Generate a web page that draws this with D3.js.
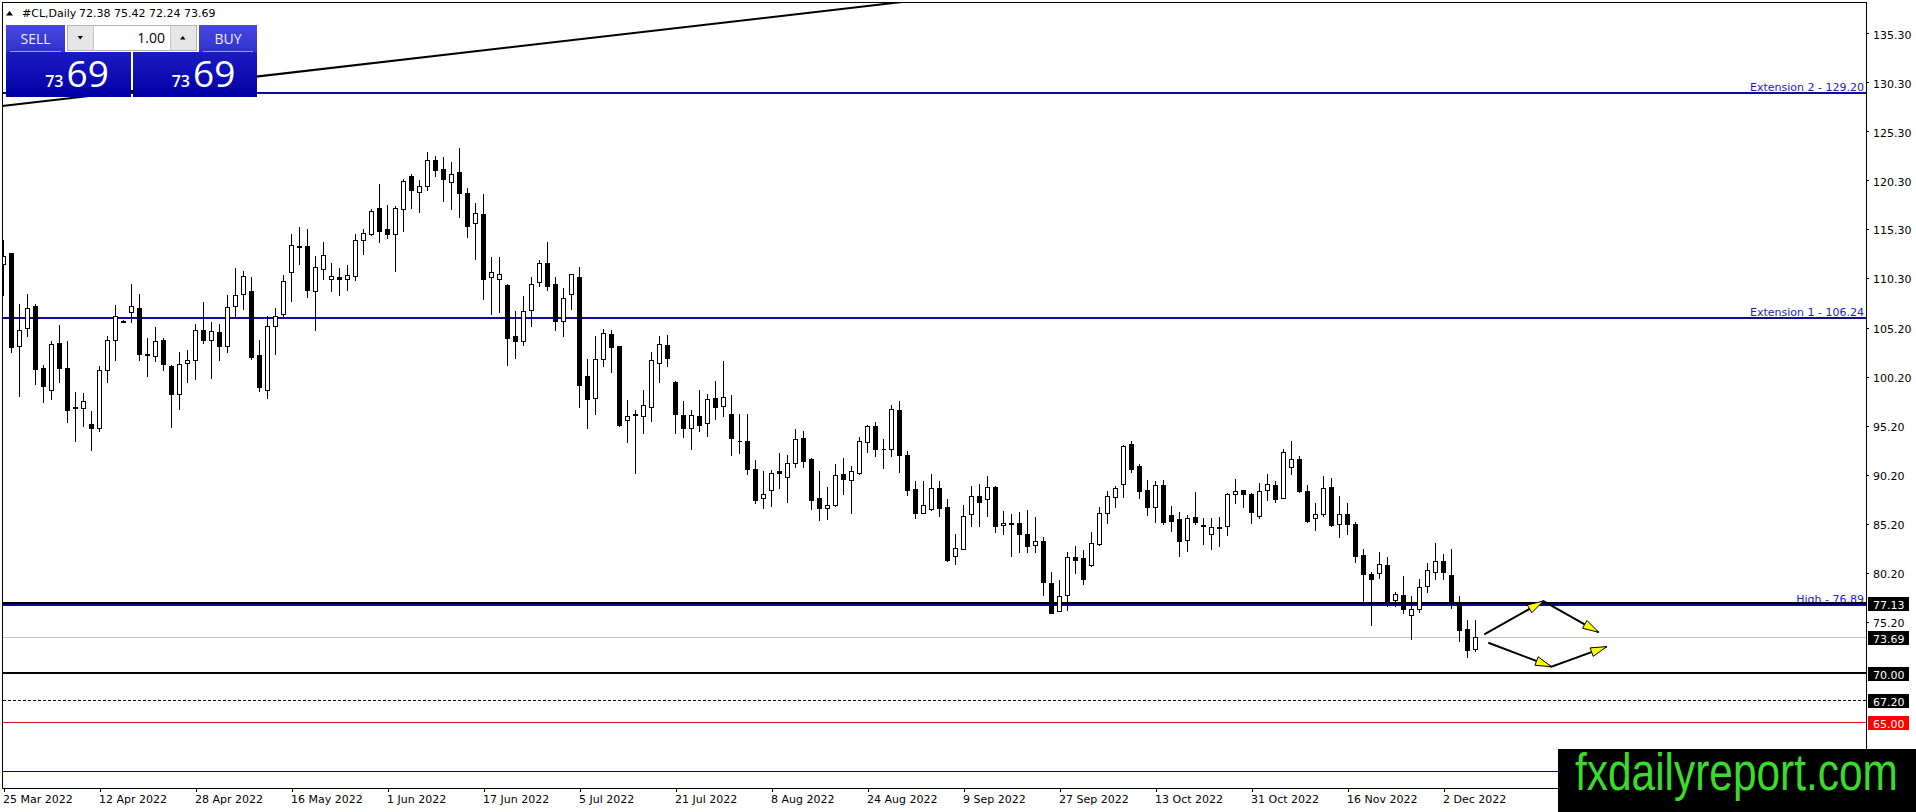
<!DOCTYPE html>
<html>
<head>
<meta charset="utf-8">
<title>#CL,Daily</title>
<script src="https://cdn.jsdelivr.net/npm/d3@7"></script>
<style>
  html, body { margin: 0; padding: 0; background: #fff; overflow: hidden; }
  svg { display: block; }
</style>
</head>
<body>
<div id="chart"></div>
<script>
// ---- data --------------------------------------------------------------
const SYMBOL = '#CL,Daily';
const LOT = '1.00';
const BID = 73.69;

// date label every 12 bars, bar 0 = 25 Mar 2022
const dateLabels = ['25 Mar 2022', '12 Apr 2022', '28 Apr 2022', '16 May 2022', '1 Jun 2022',
    '17 Jun 2022', '5 Jul 2022', '21 Jul 2022', '8 Aug 2022', '24 Aug 2022', '9 Sep 2022',
    '27 Sep 2022', '13 Oct 2022', '31 Oct 2022', '16 Nov 2022', '2 Dec 2022'];
const LABEL_EVERY = 12;

const opens = [
    111.74, 112.83, 103.40, 105.25, 107.44, 101.15, 98.90, 103.64, 101.15, 97.00,
    97.05, 95.41, 94.98, 100.88, 104.02, 105.90, 106.89, 107.30, 102.60, 102.38,
    103.95, 101.29, 98.49, 101.63, 101.97, 105.04, 103.95, 104.84, 103.40, 107.44,
    108.67, 108.94, 102.48, 98.90, 105.45, 106.68, 110.92, 113.50, 113.59, 109.04,
    111.19, 110.17, 110.41, 110.24, 110.54, 114.17, 114.85, 117.45, 115.29, 114.78,
    117.41, 120.76, 119.12, 119.73, 122.40, 121.44, 120.11, 121.10, 119.05, 115.91,
    116.87, 110.37, 110.24, 109.59, 104.36, 103.88, 107.09, 109.93, 111.84, 109.69,
    105.90, 108.73, 110.41, 100.26, 98.08, 102.07, 104.63, 103.34, 95.82, 96.35,
    96.23, 97.15, 101.66, 103.51, 99.71, 96.37, 95.00, 96.26, 95.48, 98.11,
    97.26, 96.43, 93.70, 93.67, 90.80, 87.89, 88.65, 90.63, 89.94, 91.45,
    93.98, 91.82, 87.83, 86.87, 87.11, 90.29, 89.67, 90.39, 93.57, 95.21,
    92.90, 92.90, 96.88, 92.26, 88.78, 86.35, 86.76, 88.85, 86.90, 81.91,
    82.66, 86.18, 88.06, 87.72, 88.92, 85.06, 85.25, 85.26, 84.13, 83.01,
    83.42, 79.21, 76.34, 77.98, 81.78, 81.67, 80.96, 83.11, 86.29, 87.93,
    89.26, 93.36, 91.14, 88.68, 86.97, 89.19, 86.12, 85.71, 83.52, 85.88,
    85.00, 84.13, 84.80, 84.99, 88.23, 88.64, 88.27, 86.05, 88.64, 89.19,
    87.89, 91.00, 91.82, 88.57, 85.77, 86.18, 88.95, 85.16, 86.22, 85.16,
    82.02, 80.07, 80.14, 80.99, 77.47, 77.92, 75.87, 76.48, 78.87, 80.31,
    81.40, 79.97, 77.23, 74.50, 72.38];
const highs = [
    114.20, 112.90, 107.71, 108.67, 107.70, 101.39, 103.85, 105.49, 103.91, 98.72,
    98.58, 96.77, 101.28, 104.36, 107.54, 106.00, 109.69, 108.73, 104.22, 105.32,
    104.16, 101.39, 102.72, 102.93, 105.59, 107.91, 105.80, 105.66, 108.53, 111.30,
    111.06, 110.37, 104.02, 106.41, 107.30, 110.61, 114.82, 115.50, 115.33, 112.56,
    113.99, 111.81, 111.30, 111.64, 114.78, 115.29, 117.34, 119.94, 117.79, 117.68,
    120.45, 120.96, 120.35, 123.15, 122.74, 122.67, 122.20, 123.60, 119.50, 117.96,
    118.91, 112.49, 112.49, 109.69, 106.92, 108.49, 110.44, 112.15, 113.99, 110.37,
    109.28, 110.70, 111.47, 102.07, 104.36, 105.15, 104.98, 103.40, 97.90, 96.84,
    98.89, 102.76, 104.36, 104.46, 99.75, 97.80, 96.84, 98.89, 98.48, 99.75,
    101.80, 98.35, 96.43, 96.43, 91.72, 90.63, 90.69, 92.47, 92.27, 94.90,
    94.73, 91.90, 90.56, 89.00, 91.31, 91.92, 91.14, 94.11, 95.30, 95.58,
    93.87, 97.35, 97.73, 92.68, 89.63, 89.63, 90.28, 89.53, 87.72, 84.17,
    87.14, 89.12, 89.29, 90.11, 89.12, 86.53, 86.22, 86.39, 86.63, 85.88,
    83.83, 80.27, 79.45, 82.32, 82.94, 82.53, 84.41, 86.90, 88.61, 89.02,
    93.26, 93.63, 91.31, 89.70, 89.53, 89.70, 87.07, 86.39, 86.12, 88.44,
    85.77, 85.77, 85.94, 88.40, 89.77, 88.70, 88.40, 89.36, 90.28, 89.60,
    92.88, 93.70, 92.16, 89.19, 87.31, 90.11, 89.87, 88.06, 87.31, 85.36,
    82.63, 80.31, 82.29, 81.84, 78.26, 79.86, 77.81, 79.52, 81.23, 83.25,
    82.08, 82.63, 77.81, 75.35, 75.42];
const lows = [
    108.60, 102.76, 98.31, 104.36, 99.51, 97.63, 97.97, 99.68, 95.58, 93.63,
    95.17, 92.74, 94.66, 99.68, 101.97, 105.80, 105.83, 101.97, 100.33, 101.83,
    100.94, 95.07, 96.95, 99.68, 99.99, 103.68, 100.06, 101.90, 102.79, 106.34,
    107.20, 102.04, 98.76, 98.04, 102.58, 106.34, 107.98, 111.70, 108.39, 104.98,
    110.17, 109.01, 108.53, 109.08, 110.10, 112.77, 114.75, 114.03, 114.44, 111.06,
    115.16, 117.51, 117.10, 119.26, 120.69, 118.23, 117.38, 116.59, 114.54, 112.22,
    108.22, 106.68, 106.85, 101.46, 102.14, 103.44, 105.39, 109.52, 109.14, 104.98,
    104.39, 107.20, 97.19, 94.97, 96.43, 101.32, 100.71, 95.17, 93.53, 90.35,
    94.45, 95.68, 99.68, 101.32, 94.45, 94.04, 92.85, 94.66, 94.18, 95.92,
    96.20, 92.23, 92.44, 90.29, 87.38, 86.87, 87.04, 88.82, 87.48, 91.04,
    90.97, 86.70, 85.57, 85.67, 87.04, 88.24, 86.36, 90.30, 92.57, 92.10,
    90.87, 92.16, 90.45, 88.17, 85.84, 86.29, 86.63, 86.05, 81.43, 81.09,
    82.60, 85.02, 85.02, 86.05, 84.41, 84.17, 81.95, 82.29, 82.36, 82.29,
    77.98, 76.05, 76.30, 76.45, 80.20, 79.11, 80.90, 83.00, 85.33, 86.97,
    87.93, 90.45, 87.89, 86.12, 85.43, 85.16, 84.51, 81.95, 82.46, 85.16,
    83.11, 82.60, 82.97, 84.07, 87.31, 86.97, 85.26, 85.84, 87.65, 87.48,
    87.82, 90.32, 88.44, 85.43, 84.58, 86.05, 85.02, 83.89, 84.13, 81.33,
    77.16, 74.84, 79.69, 76.82, 76.82, 76.14, 73.47, 76.21, 78.26, 79.62,
    79.62, 76.65, 73.24, 71.60, 72.24];
const closes = [
    112.56, 103.27, 105.04, 107.30, 101.01, 99.24, 103.54, 101.12, 96.84, 97.10,
    97.77, 94.98, 100.88, 104.02, 106.41, 105.85, 107.44, 102.58, 102.50, 103.92,
    101.56, 98.49, 101.56, 101.97, 105.04, 104.02, 104.91, 103.40, 107.40, 108.53,
    110.48, 102.24, 99.17, 105.45, 106.48, 110.03, 113.72, 113.55, 109.14, 111.40,
    112.63, 110.51, 110.17, 110.58, 114.17, 114.95, 117.17, 115.16, 114.78, 117.45,
    120.25, 119.26, 119.73, 122.40, 121.37, 120.42, 120.96, 118.95, 115.67, 116.93,
    110.24, 110.89, 110.68, 104.22, 103.88, 106.99, 109.72, 111.84, 109.55, 105.90,
    108.32, 110.68, 99.34, 97.97, 102.07, 104.74, 103.27, 95.34, 96.23, 96.45,
    97.36, 101.97, 103.61, 102.17, 96.43, 95.00, 96.37, 95.31, 97.97, 97.12,
    98.21, 93.98, 93.65, 90.76, 87.62, 88.30, 90.39, 90.35, 91.45, 93.87,
    91.65, 87.69, 86.87, 87.11, 90.18, 89.74, 90.63, 93.64, 95.21, 92.85,
    92.85, 96.90, 92.20, 88.68, 86.29, 87.14, 88.85, 86.87, 81.50, 82.70,
    86.01, 88.06, 87.48, 88.98, 85.02, 85.30, 85.20, 84.13, 82.97, 83.42,
    79.28, 76.11, 77.88, 81.78, 81.50, 79.59, 83.21, 86.29, 88.06, 88.85,
    93.19, 90.80, 88.51, 86.97, 89.19, 85.43, 85.53, 83.48, 85.77, 85.43,
    85.05, 84.85, 84.85, 88.27, 88.54, 88.30, 86.39, 88.51, 89.26, 87.76,
    92.54, 91.82, 88.57, 85.50, 86.18, 88.85, 85.09, 86.22, 85.23, 81.95,
    80.03, 79.62, 81.06, 77.30, 78.02, 76.55, 76.48, 78.80, 80.48, 81.40,
    80.24, 77.23, 74.40, 72.35, 73.69];

// right price scale labels (MT4 steps, incl. its 110.30 -> 105.20 jump)
const priceTicks = [135.30, 130.30, 125.30, 120.30, 115.30, 110.30, 105.20,
    100.20, 95.20, 90.20, 85.20, 80.20, 75.20];

// horizontal levels drawn on the chart
const levelNames = ['ext2', 'ext1', 'high', 'resist', 'bid', 'round', 'dash', 'stop', 'floor'];
const levelValues = [129.20, 106.24, 76.89, 77.13, BID, 70.00, 67.20, 65.00, 59.96];
const levelTitles = ['Extension 2', 'Extension 1', 'High', '', '', '', '', '', ''];

// drawn objects, as [bar index, price]
const trendPoints = [[-0.16, 127.89], [49.5, 132.58]];
const arrowPaths = [
    [[185.1, 73.92], [192.5, 77.32], [199.4, 74.13]],
    [[185.6, 73.06], [193.5, 70.61], [200.4, 72.66]],
];

// ---- layout & styles ----------------------------------------------------
const W = 1916, H = 812;
const PLOT = { left: 2.5, top: 2.5, right: 1866.5, bottom: 788.5 };
const PRICE_MIN = 58.2, PRICE_MAX = 138.45;
const BAR_STEP = 8, FIRST_BAR_X = 3.5;
const FONT = '"DejaVu Sans", Verdana, sans-serif';
const UI_FONT = '"Open Sans", "Noto Sans", sans-serif';

const LEVEL_STYLE = {
    ext2:   { stroke: '#0b0b9c', width: 2 },
    ext1:   { stroke: '#0b0b9c', width: 2 },
    high:   { stroke: '#0b0b9c', width: 2 },
    resist: { stroke: '#000', width: 2, tag: '#000' },
    bid:    { stroke: '#c4c4c4', width: 1, tag: '#000' },
    round:  { stroke: '#000', width: 2, tag: '#000' },
    dash:   { stroke: '#000', width: 1, dash: '3,2', tag: '#000' },
    stop:   { stroke: '#e01010', width: 1, tag: '#ff0000' },
    floor:  { stroke: '#00007c', width: 1 },
};
const LEVEL_ORDER = ['ext2', 'ext1', 'high', 'floor', 'bid', 'stop', 'dash', 'round', 'resist'];

// ---- scales --------------------------------------------------------------
const x = d3.scaleLinear().domain([0, 1]).range([FIRST_BAR_X, FIRST_BAR_X + BAR_STEP]);
const y = d3.scaleLinear().domain([PRICE_MIN, PRICE_MAX]).range([788.2, 2.6]);

const svg = d3.select('#chart').append('svg')
    .attr('width', W).attr('height', H)
    .attr('viewBox', `0 0 ${W} ${H}`);

svg.append('rect').attr('width', W).attr('height', H).attr('fill', '#fff');

const defs = svg.append('defs');
defs.append('clipPath').attr('id', 'plot-clip')
    .append('rect')
    .attr('x', PLOT.left).attr('y', PLOT.top)
    .attr('width', PLOT.right - PLOT.left).attr('height', PLOT.bottom - PLOT.top);

const plot = svg.append('g').attr('clip-path', 'url(#plot-clip)');

// ---- levels: captions first, line over it (as MT4 shows "High") ---------
const levels = levelNames.map((name, i) => ({
    name, value: levelValues[i], title: levelTitles[i], style: LEVEL_STYLE[name],
}));
const byName = Object.fromEntries(levels.map(l => [l.name, l]));

plot.selectAll('text.level-caption')
    .data(levels.filter(l => l.title))
    .join('text')
    .attr('class', 'level-caption')
    .attr('x', PLOT.right - 2.5)
    .attr('y', d => Math.round(y(d.value)) - 2)
    .attr('text-anchor', 'end')
    .attr('font-family', FONT)
    .attr('font-size', 11)
    .attr('fill', '#1c1cc4')
    .text(d => `${d.title} - ${d.value.toFixed(2)}`);

plot.selectAll('line.level')
    .data(LEVEL_ORDER.map(n => byName[n]))
    .join('line')
    .attr('class', 'level')
    .attr('x1', PLOT.left).attr('x2', PLOT.right)
    .attr('y1', d => Math.round(y(d.value)) + (d.style.width % 2 ? 0.5 : 0))
    .attr('y2', d => Math.round(y(d.value)) + (d.style.width % 2 ? 0.5 : 0))
    .attr('stroke', d => d.style.stroke)
    .attr('stroke-width', d => d.style.width)
    .attr('stroke-dasharray', d => d.style.dash || null)
    .attr('shape-rendering', 'crispEdges');

// ---- trendline (ray to the right, clipped by the plot) ------------------
const [[ta, tp], [tb, tq]] = trendPoints;
const slope = (tq - tp) / (tb - ta);
const rayEnd = 260;
plot.append('line')
    .attr('x1', x(ta)).attr('y1', y(tp))
    .attr('x2', x(rayEnd)).attr('y2', y(tp + slope * (rayEnd - ta)))
    .attr('stroke', '#000').attr('stroke-width', 2);

// ---- candles ---------------------------------------------------------------
const bars = opens.map((o, i) => ({ i, o, h: highs[i], l: lows[i], c: closes[i] }));
const candle = plot.append('g').selectAll('g.bar')
    .data(bars)
    .join('g')
    .attr('class', 'bar');

candle.append('line')
    .attr('x1', d => Math.floor(x(d.i)) + 0.5)
    .attr('x2', d => Math.floor(x(d.i)) + 0.5)
    .attr('y1', d => Math.round(y(d.h)))
    .attr('y2', d => Math.round(y(d.l)) + 1)
    .attr('stroke', '#000')
    .attr('shape-rendering', 'crispEdges');

candle.append('path')
    .attr('d', d => {
        const left = Math.floor(x(d.i)) - 1.5;
        const top = Math.round(y(Math.max(d.o, d.c))) + 0.5;
        const bottom = Math.round(y(Math.min(d.o, d.c))) + 0.5;
        return `M${left},${top}H${left + 4}V${bottom}H${left}Z`;
    })
    .attr('fill', d => d.c >= d.o ? '#fff' : '#000')
    .attr('stroke', '#000')
    .attr('shape-rendering', 'crispEdges');

// ---- scenario arrows ------------------------------------------------------
const arrowLine = d3.line().x(d => x(d[0])).y(d => y(d[1]));
const arrows = plot.append('g');
arrowPaths.forEach(path => {
    arrows.append('path')
        .attr('d', arrowLine(path))
        .attr('fill', 'none')
        .attr('stroke', '#000')
        .attr('stroke-width', 2);
    d3.pairs(path).forEach(([a, b]) => {
        const x0 = x(a[0]), y0 = y(a[1]), x1 = x(b[0]), y1 = y(b[1]);
        const ang = Math.atan2(y1 - y0, x1 - x0);
        const len = 16, half = 4.5;
        const bx = x1 - len * Math.cos(ang), by = y1 - len * Math.sin(ang);
        const nx = -Math.sin(ang) * half, ny = Math.cos(ang) * half;
        arrows.append('path')
            .attr('d', `M${x1},${y1}L${bx + nx},${by + ny}L${bx - nx},${by - ny}Z`)
            .attr('fill', '#ffff00')
            .attr('stroke', '#000')
            .attr('stroke-width', 1)
            .attr('stroke-linejoin', 'miter');
    });
});

// ---- frame & axes -----------------------------------------------------------
svg.append('rect')
    .attr('x', PLOT.left).attr('y', PLOT.top)
    .attr('width', PLOT.right - PLOT.left).attr('height', PLOT.bottom - PLOT.top)
    .attr('fill', 'none').attr('stroke', '#000')
    .attr('shape-rendering', 'crispEdges');

const yAxis = d3.axisRight(y)
    .tickValues(priceTicks)
    .tickFormat(d3.format('.2f'))
    .tickSize(3)
    .tickSizeOuter(0);

svg.append('g')
    .attr('transform', `translate(${PLOT.right - 0.5},0)`)
    .call(yAxis)
    .call(g => g.select('.domain').remove())
    .call(g => g.selectAll('line').attr('stroke', '#000').attr('shape-rendering', 'crispEdges'))
    .call(g => g.selectAll('text')
        .attr('x', 7)
        .attr('dy', '0.43em')
        .attr('fill', '#000')
        .attr('font-family', FONT)
        .attr('font-size', 11));

const xAxis = d3.axisBottom(x)
    .tickValues(dateLabels.map((_, k) => k * LABEL_EVERY))
    .tickFormat((d, k) => dateLabels[k])
    .tickSize(4)
    .tickSizeOuter(0);

svg.append('g')
    .attr('transform', `translate(0,${PLOT.bottom - 0.5})`)
    .call(xAxis)
    .call(g => g.select('.domain').remove())
    .call(g => g.selectAll('line').attr('stroke', '#000').attr('shape-rendering', 'crispEdges'))
    .call(g => g.selectAll('text')
        .attr('x', -1)
        .attr('text-anchor', 'start')
        .attr('fill', '#000')
        .attr('font-family', FONT)
        .attr('font-size', 11));

// price tags on the scale
const tags = svg.append('g').selectAll('g')
    .data(levels.filter(l => l.style.tag))
    .join('g')
    .attr('transform', d => `translate(${PLOT.right + 1.5},${Math.round(y(d.value)) + 1})`);
tags.append('rect')
    .attr('x', 0).attr('y', -7).attr('width', 41).attr('height', 14)
    .attr('fill', d => d.style.tag);
tags.append('text')
    .attr('x', 5).attr('y', 4.5)
    .attr('fill', '#fff')
    .attr('font-family', FONT)
    .attr('font-size', 11)
    .text(d => d.value.toFixed(2));

// ---- header ---------------------------------------------------------------
const last = bars[bars.length - 1];
const header = svg.append('g');
header.append('path').attr('d', 'M6,15.5L9.5,11L13,15.5Z').attr('fill', '#000');
header.append('text')
    .attr('x', 22).attr('y', 17)
    .attr('font-family', FONT).attr('font-size', 11).attr('fill', '#000')
    .text(SYMBOL);
header.append('text')
    .attr('x', 79).attr('y', 17)
    .attr('font-family', FONT).attr('font-size', 11).attr('fill', '#000')
    .text([last.o, last.h, last.l, last.c].map(v => v.toFixed(2)).join(' '));

// ---- one-click trading panel -------------------------------------------
const gradBig = defs.append('linearGradient').attr('id', 'big')
    .attr('x1', 0).attr('y1', 0).attr('x2', 0).attr('y2', 1);
gradBig.append('stop').attr('offset', '0%').attr('stop-color', '#2c2cd6');
gradBig.append('stop').attr('offset', '100%').attr('stop-color', '#0000a4');
const gradBtn = defs.append('linearGradient').attr('id', 'btn')
    .attr('x1', 0).attr('y1', 0).attr('x2', 0).attr('y2', 1);
gradBtn.append('stop').attr('offset', '0%').attr('stop-color', '#4848e0');
gradBtn.append('stop').attr('offset', '100%').attr('stop-color', '#3030cc');

const [bidSmall, bidBig] = BID.toFixed(2).split('.');
const panel = svg.append('g');
[{ x0: 6, x1: 131, bx0: 6, bx1: 65, label: 'SELL' },
 { x0: 133, x1: 257, bx0: 199, bx1: 257, label: 'BUY' }].forEach(p => {
    panel.append('rect')
        .attr('x', p.x0).attr('y', 25).attr('width', p.x1 - p.x0).attr('height', 72)
        .attr('fill', 'url(#big)');
    panel.append('rect')
        .attr('x', p.bx0).attr('y', 25).attr('width', p.bx1 - p.bx0).attr('height', 27)
        .attr('fill', 'url(#btn)');
    panel.append('line')
        .attr('x1', p.bx0 + 4).attr('x2', p.bx1 - 4).attr('y1', 51.5).attr('y2', 51.5)
        .attr('stroke', '#9a9af0').attr('stroke-width', 1);
    panel.append('text')
        .attr('x', (p.bx0 + p.bx1) / 2).attr('y', 44)
        .attr('text-anchor', 'middle')
        .attr('font-family', UI_FONT).attr('font-size', 14)
        .attr('fill', '#f0f0ff')
        .text(p.label);
    const mid = (p.x0 + p.x1) / 2;
    panel.append('text')
        .attr('x', mid - 5).attr('y', 87)
        .attr('text-anchor', 'end')
        .attr('font-family', UI_FONT).attr('font-size', 16).attr('font-weight', 600)
        .attr('fill', '#fff')
        .text(bidSmall);
    panel.append('text')
        .attr('x', mid - 2).attr('y', 87)
        .attr('font-family', UI_FONT).attr('font-size', 37)
        .attr('fill', '#fff')
        .text(bidBig);
});

// lot size control
panel.append('rect').attr('x', 65).attr('y', 24).attr('width', 134).attr('height', 28).attr('fill', '#fff');
panel.append('rect').attr('x', 67.5).attr('y', 25.5).attr('width', 129).attr('height', 25)
    .attr('fill', '#fff').attr('stroke', '#b4b4b4');
panel.append('rect').attr('x', 68).attr('y', 26).attr('width', 25).attr('height', 24).attr('fill', '#e6e6e6');
panel.append('rect').attr('x', 171).attr('y', 26).attr('width', 25).attr('height', 24).attr('fill', '#e6e6e6');
panel.append('line').attr('x1', 93.5).attr('x2', 93.5).attr('y1', 26).attr('y2', 50).attr('stroke', '#c8c8c8');
panel.append('line').attr('x1', 170.5).attr('x2', 170.5).attr('y1', 26).attr('y2', 50).attr('stroke', '#c8c8c8');
panel.append('path').attr('d', 'M77.5,36L83,36L80.25,39.5Z').attr('fill', '#000');
panel.append('path').attr('d', 'M180,39.5L185.5,39.5L182.75,36Z').attr('fill', '#000');
panel.append('text')
    .attr('x', 165).attr('y', 43)
    .attr('text-anchor', 'end')
    .attr('font-family', UI_FONT).attr('font-size', 14)
    .attr('fill', '#000')
    .text(LOT);

// ---- watermark --------------------------------------------------------------
// narrow face faked with a horizontal squeeze so the box holds the whole word
svg.append('rect').attr('x', 1558).attr('y', 749).attr('width', W - 1558).attr('height', H - 749)
    .attr('fill', '#000');
const mark = svg.append('text')
    .attr('font-family', '"Liberation Sans", Arial, sans-serif')
    .attr('font-size', 52)
    .attr('fill', '#3adb2a')
    .text('fxdailyreport.com');
const naturalWidth = mark.node().getComputedTextLength() || 396;
mark.attr('transform', `translate(1575,790) scale(${323 / naturalWidth},1)`);
</script>
</body>
</html>
